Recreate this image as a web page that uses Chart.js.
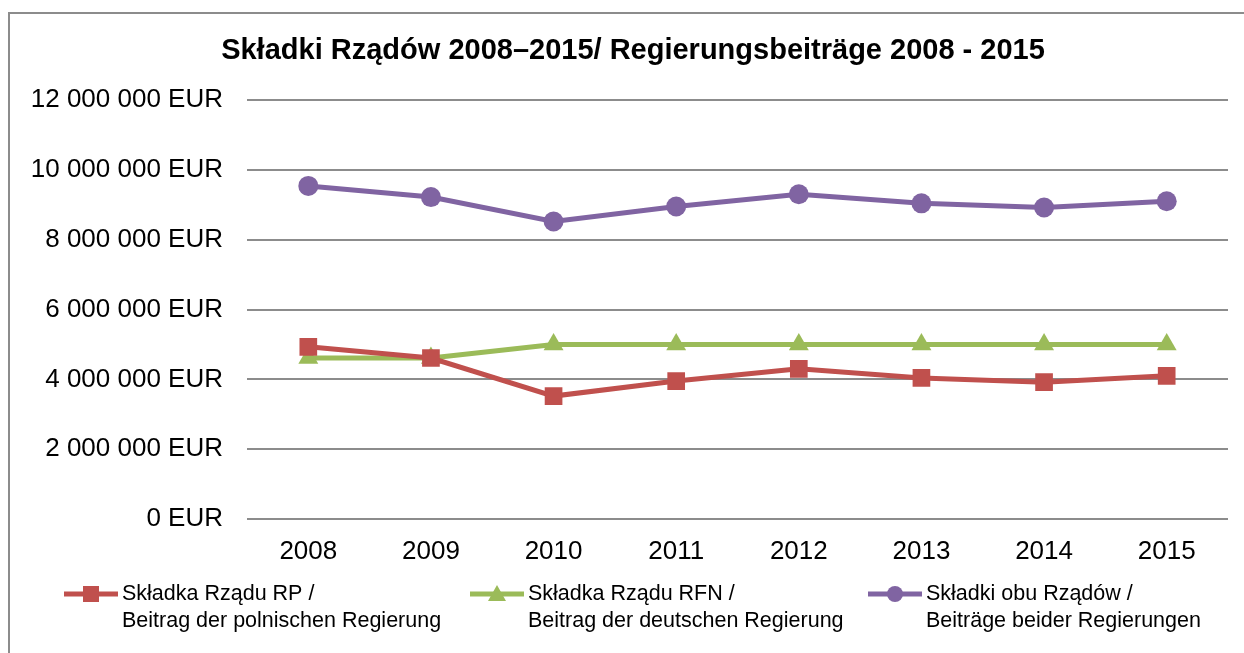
<!DOCTYPE html>
<html>
<head>
<meta charset="utf-8">
<script src="https://cdn.jsdelivr.net/npm/chart.js@4.4.1/dist/chart.umd.min.js"></script>
<style>
    html, body { margin: 0; padding: 0; background: #fff; }
    #wrap { position: relative; width: 1244px; height: 653px; overflow: hidden; }
    #frame { position: absolute; left: 8px; top: 12px; width: 1300px; height: 700px; border: 2px solid #8c8c8c; box-sizing: border-box; }
    #chart { position: absolute; left: 0; top: 0; }
</style>
</head>
<body>
<div id="wrap">
    <div id="frame"></div>
    <canvas id="chart" width="1244" height="653"></canvas>
</div>
<script>
    var years = ["2008", "2009", "2010", "2011", "2012", "2013", "2014", "2015"];

    var polish = [4930000, 4610000, 3520000, 3950000, 4300000, 4040000, 3920000, 4100000];
    var german = [4610000, 4610000, 5000000, 5000000, 5000000, 5000000, 5000000, 5000000];
    var both = [9540000, 9220000, 8520000, 8950000, 9300000, 9040000, 8920000, 9100000];

    var seriesNames = [
        ["Składka Rządu RP /", "Beitrag der polnischen Regierung"],
        ["Składka Rządu RFN /", "Beitrag der deutschen Regierung"],
        ["Składki obu Rządów /", "Beiträge beider Regierungen"],
    ];

    var titleText = "Składki Rządów 2008–2015/ Regierungsbeiträge 2008 - 2015";
    var font = "'Liberation Sans', Arial, sans-serif";

    function fmtEur(v) {
        return String(v).replace(/\B(?=(\d{3})+(?!\d))/g, " ") + " EUR";
    }

    function drawMarker(ctx, style, x, y, color) {
        ctx.fillStyle = color;
        ctx.beginPath();
        if (style === "rect") {
            ctx.rect(x - 8, y - 8, 16, 16);
        } else if (style === "triangle") {
            ctx.moveTo(x, y - 9);
            ctx.lineTo(x + 9, y + 7);
            ctx.lineTo(x - 9, y + 7);
            ctx.closePath();
        } else {
            ctx.arc(x, y, 8, 0, Math.PI * 2);
        }
        ctx.fill();
    }

    // title + two-line legend drawn on the canvas
    var extras = {
        id: "extras",
        afterDraw: function (chart) {
            var ctx = chart.ctx;
            ctx.save();
            ctx.fillStyle = "#000";
            ctx.font = "bold 29px " + font;
            ctx.textAlign = "center";
            ctx.textBaseline = "middle";
            ctx.fillText(titleText, 633, 51);

            var xs = [64, 470, 868];
            ctx.font = "21.5px " + font;
            ctx.textAlign = "left";
            chart.data.datasets.forEach(function (ds, i) {
                var x = xs[i], y = 594;
                ctx.strokeStyle = ds.borderColor;
                ctx.lineWidth = 5;
                ctx.beginPath();
                ctx.moveTo(x, y);
                ctx.lineTo(x + 54, y);
                ctx.stroke();
                drawMarker(ctx, ds.pointStyle, x + 27, y, ds.borderColor);
                ctx.fillStyle = "#000";
                ctx.fillText(seriesNames[i][0], x + 58, y);
                ctx.fillText(seriesNames[i][1], x + 58, y + 27);
            });
            ctx.restore();
        },
    };

    new Chart(document.getElementById("chart"), {
        type: "line",
        data: {
            labels: years,
            datasets: [
                { label: seriesNames[0].join(" "), data: polish, borderColor: "#C0504D", backgroundColor: "#C0504D", pointStyle: "rect", pointRadius: 12.5 },
                { label: seriesNames[1].join(" "), data: german, borderColor: "#9BBB59", backgroundColor: "#9BBB59", pointStyle: "triangle", pointRadius: 11.5 },
                { label: seriesNames[2].join(" "), data: both, borderColor: "#8064A2", backgroundColor: "#8064A2", pointStyle: "circle", pointRadius: 10 },
            ],
        },
        options: {
            responsive: false,
            animation: false,
            layout: { padding: { top: 100, right: 16, bottom: 0, left: 0 } },
            elements: {
                line: { borderWidth: 5, tension: 0 },
                point: { borderWidth: 0 },
            },
            plugins: {
                legend: { display: false },
                title: { display: false },
                tooltip: { enabled: false },
            },
            scales: {
                x: {
                    offset: true,
                    grid: { display: false, drawTicks: false },
                    border: { display: false },
                    ticks: { color: "#000", font: { family: font, size: 26 }, padding: 17 },
                    afterFit: function (s) { s.height = 134; },
                },
                y: {
                    min: 0,
                    max: 12000000,
                    grid: { color: "#8c8c8c", lineWidth: 2, drawTicks: false },
                    border: { display: false },
                    ticks: { stepSize: 2000000, color: "#000", font: { family: font, size: 26 }, padding: 24, callback: fmtEur },
                    afterFit: function (s) { s.width = 247; },
                },
            },
        },
        plugins: [extras],
    });
</script>
</body>
</html>
